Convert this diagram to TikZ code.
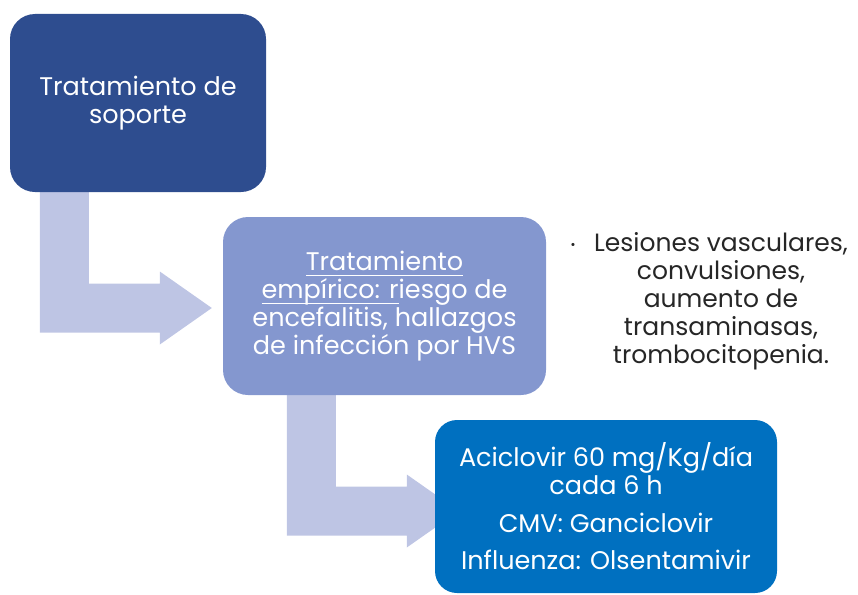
\documentclass[tikz,border=0pt]{standalone}
\usepackage{fontspec}
\setmainfont{Poppins}
\usetikzlibrary{calc,backgrounds}

\definecolor{azulosc}{HTML}{2E4D8F}
\definecolor{azulmed}{HTML}{8497CF}
\definecolor{azulfue}{HTML}{0070C0}
\definecolor{lila}{HTML}{BEC5E4}
\definecolor{texto}{HTML}{262626}

\tikzset{
  caja/.style={rounded corners=25pt, align=center, text=white, inner sep=0pt,
    font=\fontsize{25.5}{28}\selectfont},
  flecha/.style={fill=lila}
}

% subrayado a profundidad fija
\newcommand{\subrayado}[1]{\leavevmode\setbox0\hbox{#1}\rlap{\rule[-6pt]{\wd0}{1.5pt}}\box0}

% flecha en L: baja desde #1 y gira hacia la punta #2
\newcommand{\flechaL}[2]{%
  \fill[flecha] let \p1=(#1), \p2=(#2) in
    (\x1-24.5pt,\y1) -- (\x1-24.5pt,\y2-24.5pt) -- (\x2-52pt,\y2-24.5pt)
    -- (\x2-52pt,\y2-36.5pt) -- (\x2,\y2) -- (\x2-52pt,\y2+36.5pt)
    -- (\x2-52pt,\y2+24.5pt) -- (\x1+24.5pt,\y2+24.5pt) -- (\x1+24.5pt,\y1) -- cycle;}

\begin{document}
\begin{tikzpicture}[x=1pt,y=-1pt]
  \useasboundingbox (0,0) rectangle (858,594);

  \node[caja, fill=azulosc, minimum width=256pt, minimum height=178pt] (soporte) at (138,103)
    {Tratamiento de\\soporte};
  \node[caja, fill=azulmed, minimum width=323pt, minimum height=178pt] (empirico) at (384.5,306)
    {\subrayado{Tratamiento}\\\subrayado{empírico: r}iesgo de\\encefalitis, hallazgos\\de infección por HVS};
  \node[caja, rounded corners=22pt, fill=azulfue, minimum width=342pt, minimum height=173pt] (aciclovir) at (606,506.5)
    {Aciclovir 60 mg/Kg/día\\cada 6 h\\[10pt]CMV: Ganciclovir\\[9pt]Influenza: Olsentamivir};

  \node[text=texto, align=center, font=\fontsize{25}{28}\selectfont] (efectos) at (721,301)
    {Lesiones vasculares,\\convulsiones,\\aumento de\\transaminasas,\\trombocitopenia.};
  \node[text=texto, anchor=base, font=\fontsize{25}{28}\selectfont] (vineta) at (573,253) {·};

  \coordinate (f1a) at ($(soporte.south west)+(54.5,-2)$);
  \coordinate (f1b) at ($(empirico.west)+(-11,2)$);
  \coordinate (f2a) at ($(empirico.south west)+(88.5,-2)$);
  \coordinate (f2b) at ($(aciclovir.west)+(24,4.5)$);

  \begin{scope}[on background layer]
    \flechaL{f1a}{f1b}
    \flechaL{f2a}{f2b}
  \end{scope}
\end{tikzpicture}
\end{document}
